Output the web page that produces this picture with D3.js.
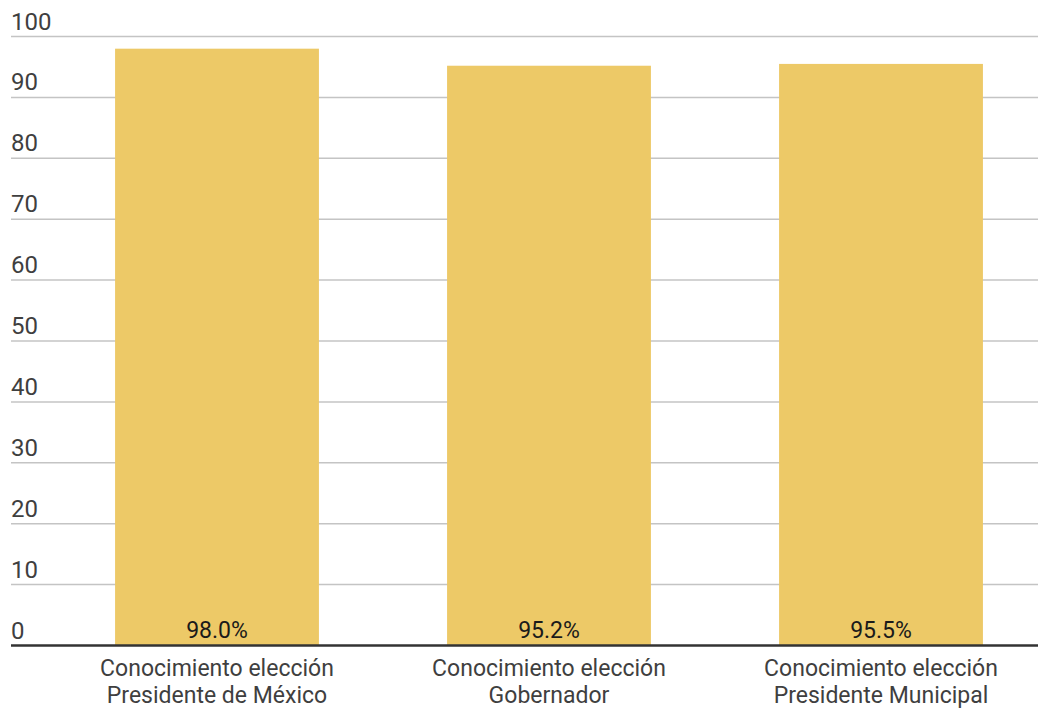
<!DOCTYPE html>
<html>
<head>
<meta charset="utf-8">
<script src="https://cdn.jsdelivr.net/npm/d3@7"></script>
<style>
  body { margin: 0; background: #fff; }
  text { font-family: Roboto, "Noto Sans", sans-serif; }
</style>
</head>
<body>
<svg id="chart"></svg>
<script>
const categories = [
    ["Conocimiento elección", "Presidente de México"],
    ["Conocimiento elección", "Gobernador"],
    ["Conocimiento elección", "Presidente Municipal"]
];
const values = [98.0, 95.2, 95.5];
const valueLabels = ["98.0%", "95.2%", "95.5%"];
const yTicks = [0, 10, 20, 30, 40, 50, 60, 70, 80, 90, 100];

const width = 1038, height = 708;
const svg = d3.select("#chart").attr("width", width).attr("height", height);

const x = d3.scaleBand()
    .domain(d3.range(values.length))
    .range([51, 1047])
    .paddingInner(0.386)
    .paddingOuter(0.193);

const y = d3.scaleLinear().domain([0, 100]).range([645.5, 36.5]);

// gridlines + tick labels
const grid = svg.append("g");
grid.selectAll("line")
    .data(yTicks.filter(d => d > 0))
    .join("line")
    .attr("x1", 11).attr("x2", width)
    .attr("y1", d => y(d)).attr("y2", d => y(d))
    .attr("stroke", "#c4c4c4")
    .attr("stroke-width", 1.5);

grid.selectAll("text")
    .data(yTicks)
    .join("text")
    .attr("x", 11)
    .attr("y", d => y(d) - 7)
    .attr("font-size", 24)
    .attr("fill", "#3f3f3f")
    .text(d => d);

// bars
svg.append("g").selectAll("rect")
    .data(values)
    .join("rect")
    .attr("x", (d, i) => x(i))
    .attr("y", d => y(d))
    .attr("width", x.bandwidth())
    .attr("height", d => y(0) - y(d))
    .attr("fill", "#edc967");

// value labels
svg.append("g").selectAll("text")
    .data(valueLabels)
    .join("text")
    .attr("x", (d, i) => x(i) + x.bandwidth() / 2)
    .attr("y", y(0) - 8)
    .attr("text-anchor", "middle")
    .attr("font-size", 23)
    .attr("fill", "#1a1a1a")
    .text(d => d);

// baseline
svg.append("line")
    .attr("x1", 11).attr("x2", width)
    .attr("y1", y(0)).attr("y2", y(0))
    .attr("stroke", "#333")
    .attr("stroke-width", 2.5);

// category labels
const cat = svg.append("g").selectAll("text")
    .data(categories)
    .join("text")
    .attr("x", (d, i) => x(i) + x.bandwidth() / 2)
    .attr("y", 676)
    .attr("text-anchor", "middle")
    .attr("font-size", 23)
    .attr("fill", "#3f3f3f");

cat.selectAll("tspan")
    .data(d => d)
    .join("tspan")
    .attr("x", function () { return d3.select(this.parentNode).attr("x"); })
    .attr("dy", (d, i) => i === 0 ? 0 : 27)
    .text(d => d);
</script>
</body>
</html>
